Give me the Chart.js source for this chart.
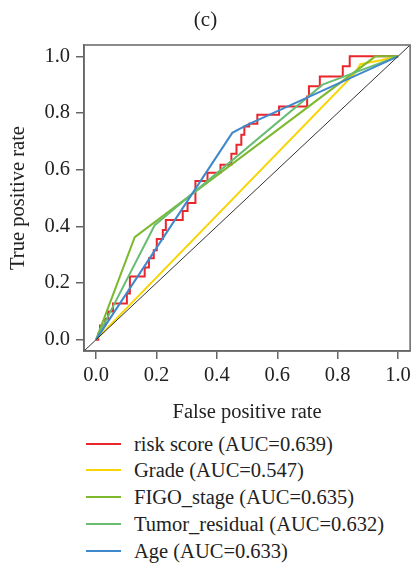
<!DOCTYPE html>
<html>
<head>
<meta charset="utf-8">
<script src="https://cdn.jsdelivr.net/npm/chart.js@4"></script>
<style>
  body { margin: 0; background: #fff; }
  #wrap { position: relative; width: 415px; height: 567px; }
  #legend { position: absolute; left: 0; top: 0; width: 415px; font-family: "Liberation Serif", serif; font-size: 20.5px; color: #222; }
  .row { position: absolute; left: 0; height: 26px; line-height: 26px; white-space: nowrap; }
  .row .ln { position: absolute; left: 86px; top: 12px; width: 35px; height: 2px; }
  .row .tx { position: absolute; left: 134px; top: 0; }
</style>
</head>
<body>
<div id="wrap">
  <canvas id="rocChart" width="415" height="425"></canvas>
  <div id="legend"></div>
</div>
<script>
// axis ticks
var fprTicks = [0, 0.2, 0.4, 0.6, 0.8, 1.0];
var tprTicks = [0, 0.2, 0.4, 0.6, 0.8, 1.0];

// legend labels and colours
var seriesLabels = ["risk score (AUC=0.639)", "Grade (AUC=0.547)", "FIGO_stage (AUC=0.635)", "Tumor_residual (AUC=0.632)", "Age (AUC=0.633)"];
var seriesColors = ["#e8262b", "#f7d500", "#7cb92e", "#68bd72", "#3f88cb"];

// ROC curves (false positive rate, true positive rate)
var riskFpr = [0, 0.007, 0.007, 0.013, 0.013, 0.030, 0.030, 0.040, 0.040, 0.056, 0.056, 0.102, 0.102, 0.112, 0.112, 0.161, 0.161, 0.175, 0.175, 0.191, 0.191, 0.201, 0.201, 0.221, 0.221, 0.231, 0.231, 0.287, 0.287, 0.303, 0.303, 0.329, 0.329, 0.369, 0.369, 0.412, 0.412, 0.448, 0.448, 0.465, 0.465, 0.481, 0.481, 0.491, 0.491, 0.507, 0.507, 0.534, 0.534, 0.606, 0.606, 0.699, 0.699, 0.705, 0.705, 0.741, 0.741, 0.817, 0.817, 0.840, 0.840, 1.0];
var riskTpr = [0, 0, 0.021, 0.021, 0.050, 0.050, 0.074, 0.074, 0.099, 0.099, 0.128, 0.128, 0.163, 0.163, 0.223, 0.223, 0.255, 0.255, 0.287, 0.287, 0.316, 0.316, 0.355, 0.355, 0.387, 0.387, 0.422, 0.422, 0.454, 0.454, 0.482, 0.482, 0.560, 0.560, 0.589, 0.589, 0.617, 0.617, 0.656, 0.656, 0.688, 0.688, 0.723, 0.723, 0.752, 0.752, 0.762, 0.762, 0.794, 0.794, 0.823, 0.823, 0.858, 0.858, 0.894, 0.894, 0.929, 0.929, 0.965, 0.965, 1.0, 1.0];
var gradeFpr = [0, 0.859, 0.875, 0.947, 1];
var gradeTpr = [0, 0.942, 0.972, 0.987, 1];
var figoFpr = [0, 0.128, 0.925, 1];
var figoTpr = [0, 0.362, 1.0, 1];
var tumorFpr = [0, 0.194, 0.75, 1];
var tumorTpr = [0, 0.404, 0.90, 1];
var ageFpr = [0, 0.451, 0.502, 1];
var ageTpr = [0, 0.730, 0.759, 1];
var diagFpr = [-0.04, 1.04];
var diagTpr = [-0.04, 1.04];

function pts(xs, ys) {
    return xs.map(function (x, i) { return { x: x, y: ys[i] }; });
}

var curves = [pts(riskFpr, riskTpr), pts(gradeFpr, gradeTpr), pts(figoFpr, figoTpr), pts(tumorFpr, tumorTpr), pts(ageFpr, ageTpr)];

var datasets = curves.map(function (d, i) {
    return {
        label: seriesLabels[i],
        data: d,
        showLine: true,
        borderColor: seriesColors[i],
        borderWidth: 2,
        pointRadius: 0,
        fill: false,
        tension: 0,
        order: 5 - i
    };
});
datasets.push({
    label: "diagonal",
    data: pts(diagFpr, diagTpr),
    showLine: true,
    borderColor: "#333",
    borderWidth: 1,
    pointRadius: 0,
    order: 0
});

var serif = "'Liberation Serif', serif";
var axisColor = "#666";

var boxPlugin = {
    id: "box",
    afterDatasetsDraw: function (chart) {
        var a = chart.chartArea, c = chart.ctx;
        c.save();
        c.strokeStyle = axisColor;
        c.lineWidth = 1.5;
        c.strokeRect(a.left, a.top, a.right - a.left, a.bottom - a.top);
        c.restore();
    }
};

new Chart(document.getElementById("rocChart").getContext("2d"), {
    type: "scatter",
    data: { datasets: datasets },
    options: {
        responsive: false,
        animation: false,
        devicePixelRatio: 1,
        layout: { padding: { left: 0, right: 4, top: 0, bottom: 0 } },
        plugins: {
            legend: { display: false },
            tooltip: { enabled: false },
            title: {
                display: true,
                text: "(c)",
                color: "#222",
                font: { family: serif, size: 21, weight: "normal" },
                padding: { top: 8, bottom: 11.8 }
            }
        },
        scales: {
            x: {
                type: "linear",
                min: -0.04,
                max: 1.04,
                afterBuildTicks: function (s) { s.ticks = fprTicks.map(function (v) { return { value: v }; }); },
                afterFit: function (s) { s.height = 74; },
                ticks: {
                    color: "#222",
                    font: { family: serif, size: 20.5 },
                    padding: 4,
                    maxRotation: 0,
                    autoSkip: false,
                    callback: function (v) { return v.toFixed(1); }
                },
                grid: { drawOnChartArea: false, drawTicks: true, tickLength: 8, color: axisColor, lineWidth: 1.5 },
                border: { display: true, color: axisColor, width: 1.5 },
                title: {
                    display: true,
                    text: "False positive rate",
                    color: "#222",
                    font: { family: serif, size: 20.5 },
                    padding: { top: 5, bottom: 0 }
                }
            },
            y: {
                type: "linear",
                min: -0.04,
                max: 1.04,
                afterBuildTicks: function (s) { s.ticks = tprTicks.map(function (v) { return { value: v }; }); },
                afterFit: function (s) { s.width = 84; },
                ticks: {
                    color: "#222",
                    font: { family: serif, size: 20.5 },
                    padding: 6,
                    autoSkip: false,
                    callback: function (v) { return v.toFixed(1); }
                },
                grid: { drawOnChartArea: false, drawTicks: true, tickLength: 8, color: axisColor, lineWidth: 1.5 },
                border: { display: true, color: axisColor, width: 1.5 },
                title: {
                    display: true,
                    text: "True positive rate",
                    color: "#222",
                    font: { family: serif, size: 20.5 },
                    padding: { top: 6, bottom: 0 }
                }
            }
        }
    },
    plugins: [boxPlugin]
});

// legend below the plot
var legend = document.getElementById("legend");
seriesLabels.forEach(function (lab, i) {
    var row = document.createElement("div");
    row.className = "row";
    row.style.top = (430.5 + i * 26.75) + "px";
    var ln = document.createElement("span");
    ln.className = "ln";
    ln.style.background = seriesColors[i];
    var tx = document.createElement("span");
    tx.className = "tx";
    tx.textContent = lab;
    row.appendChild(ln);
    row.appendChild(tx);
    legend.appendChild(row);
});
</script>
</body>
</html>
